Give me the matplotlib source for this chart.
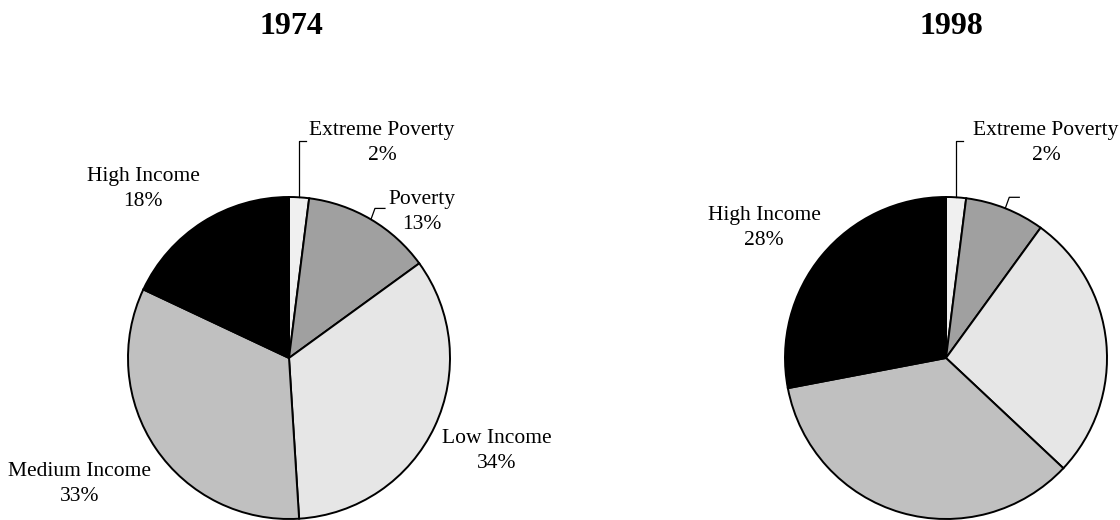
import matplotlib
matplotlib.use("Agg")
import matplotlib.pyplot as plt
import numpy as np

plt.rcParams["font.family"] = ["Liberation Serif", "DejaVu Serif"]

categories = ["Extreme Poverty", "Poverty", "Low Income", "Medium Income", "High Income"]
shares_1974 = [2, 13, 34, 33, 18]
shares_1998 = [2, 8, 27, 35, 28]
years = ["1974", "1998"]
colors = ["#f0f0f0", "#a0a0a0", "#e6e6e6", "#c0c0c0", "#000000"]

# layout in pixels, measured from the top-left corner of the picture
W, H = 1120, 520
R = 161
centers = [(289, 358), (946, 358)]
title_x = [291, 951]
# label centres; None = label falls outside the cropped picture
label_pos = [
    [(382, 143), (422, 212), (497, 451), (80, 484), (143, 189)],
    [(1046, 143), None, None, None, (764, 228)],
]


def fy(y):
    return H - y


fig = plt.figure(figsize=(W / 100, H / 100), dpi=100)
ax = fig.add_axes([0, 0, 1, 1])

for k, (year, shares) in enumerate(zip(years, [shares_1974, shares_1998])):
    cx, cy = centers[k]
    wedges, _ = ax.pie(
        shares,
        colors=colors,
        startangle=90,
        counterclock=False,
        radius=R,
        center=(cx, fy(cy)),
        wedgeprops=dict(edgecolor="black", linewidth=1.4),
    )
    ax.text(title_x[k], fy(26), year, ha="center", va="center",
            fontsize=23, fontweight="bold")

    for i, w in enumerate(wedges):
        theta = np.deg2rad((w.theta1 + w.theta2) / 2)
        px = cx + R * np.cos(theta)
        py = fy(cy) + R * np.sin(theta)
        pos = label_pos[k][i]
        if i == 0:
            ly = fy(label_pos[k][0][1]) + 2
            ax.plot([px, px, px + 7], [py, ly, ly], color="black", lw=0.9)
        elif i == 1:
            ax.plot([px, px + 4, px + 14], [py, py + 11, py + 11], color="black", lw=0.9)
        if pos is None:
            continue
        ax.text(pos[0], fy(pos[1]), f"{categories[i]}\n{shares[i]}%",
                ha="center", va="center", fontsize=15.5, linespacing=1.45)

ax.set_xlim(0, W)
ax.set_ylim(0, H)
ax.set_aspect("equal")
ax.axis("off")

fig.savefig("out.png", dpi=100)
